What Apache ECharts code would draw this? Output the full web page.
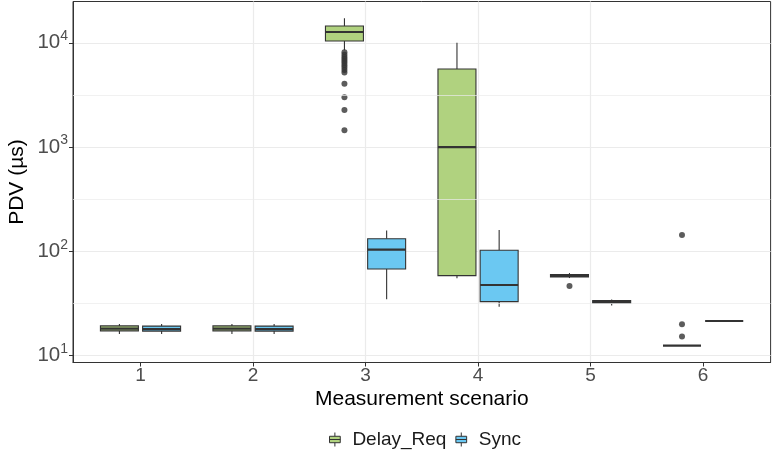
<!DOCTYPE html>
<html>
<head>
<meta charset="utf-8">
<title>PDV per measurement scenario</title>
<script src="https://cdn.jsdelivr.net/npm/echarts@6/dist/echarts.min.js"></script>
<style>
  html, body { margin: 0; padding: 0; background: #ffffff; }
  #chart { width: 772px; height: 455px; }
</style>
</head>
<body>
<div id="chart"></div>
<script>
// Measurement scenarios on the x axis
const scenarios = ['1', '2', '3', '4', '5', '6'];

// Five-number summaries per scenario: [lower whisker, Q1, median, Q3, upper whisker] in µs
const delayReqStats = [
  [16.1, 17.3, 18.2, 19.3, 20.1],
  [16.1, 17.3, 18.2, 19.3, 20.1],
  [8500, 10400, 12700, 14500, 17200],
  [55.2, 58.5, 1000, 5610, 10000],
  [55.5, 57.0, 58.3, 59.8, 62.0],
  [12.5, 12.5, 12.5, 12.5, 12.5]
];
const syncStats = [
  [16.1, 17.2, 18.0, 19.2, 20.1],
  [16.1, 17.2, 18.0, 19.2, 20.1],
  [34.8, 67.8, 104, 132, 159],
  [29.5, 33.0, 47.6, 102.6, 160],
  [30.2, 31.8, 32.7, 33.8, 34.6],
  [21.5, 21.5, 21.5, 21.5, 21.5]
];

// Outlying observations per scenario (µs)
const delayReqOutliers = [
  [], [],
  [8100, 7700, 7300, 7000, 6700, 6400, 6100, 5800, 5500, 5200, 4050, 3000, 2270, 1450],
  [],
  [46.5],
  [20, 15.3, 143.5]
];
const syncOutliers = [[], [], [], [], [], []];

// y axis: decade breaks carry labels, half-decade breaks are minor grid lines
const yMajor = [10, 100, 1000, 10000];
const yMinor = [31.62, 316.2, 3162];

const GREEN = '#B0D27F';
const BLUE = '#6BC8F2';
const INK = '#333333';
const GRID = '#EBEBEB';
const FONT = '"Liberation Sans", Arial, Helvetica, sans-serif';

// dodge: each group takes half of a 0.75 wide slot, boxes shrink by 10 % padding
const DODGE = 0.1875;
const HALF = 0.16875;

function boxRenderer(fill, side) {
  return function (params, api) {
    const k = api.value(0);
    const xc = k + side * DODGE;
    const lo = api.coord([xc, api.value(1)]);
    const q1 = api.coord([xc, api.value(2)]);
    const md = api.coord([xc, api.value(3)]);
    const q3 = api.coord([xc, api.value(4)]);
    const hi = api.coord([xc, api.value(5)]);
    const xl = api.coord([xc - HALF, api.value(3)])[0];
    const xr = api.coord([xc + HALF, api.value(3)])[0];
    const cx = lo[0];
    const thin = { stroke: INK, lineWidth: 1.1 };
    return {
      type: 'group',
      children: [
        { type: 'line', shape: { x1: cx, y1: hi[1], x2: cx, y2: q3[1] }, style: thin },
        { type: 'line', shape: { x1: cx, y1: q1[1], x2: cx, y2: lo[1] }, style: thin },
        { type: 'rect', shape: { x: xl, y: q3[1], width: xr - xl, height: q1[1] - q3[1] },
          style: { fill: fill, stroke: INK, lineWidth: 1.1 } },
        { type: 'line', shape: { x1: xl, y1: md[1], x2: xr, y2: md[1] },
          style: { stroke: INK, lineWidth: 2.2 } }
      ]
    };
  };
}

function outlierPoints(list, side) {
  const pts = [];
  list.forEach(function (vals, i) {
    vals.forEach(function (v) { pts.push([i + 1 + side * DODGE, v]); });
  });
  return pts;
}

const LEGEND_ICON = 'path://M5,0L5,3.5M0,3.5L10,3.5L10,9.5L0,9.5ZM0,6.5L10,6.5M5,9.5L5,13';

const chart = echarts.init(document.getElementById('chart'), null, { renderer: 'canvas' });

chart.setOption({
  animation: false,
  backgroundColor: '#ffffff',
  textStyle: { fontFamily: FONT },
  grid: {
    left: 73, top: 1.5, width: 697.6, height: 361,
    show: true, borderColor: INK, borderWidth: 1, backgroundColor: 'transparent',
    containLabel: false, outerBoundsMode: 'none'
  },
  legend: {
    left: 329, top: 430, padding: 0,
    itemWidth: 11, itemHeight: 14, itemGap: 9,
    selectedMode: false,
    textStyle: { fontFamily: FONT, fontSize: 19, color: '#1A1A1A', padding: [0, 0, 0, 7] },
    data: [
      { name: 'Delay_Req', icon: LEGEND_ICON, itemStyle: { color: GREEN, borderColor: INK, borderWidth: 1 } },
      { name: 'Sync', icon: LEGEND_ICON, itemStyle: { color: BLUE, borderColor: INK, borderWidth: 1 } }
    ]
  },
  xAxis: {
    type: 'value',
    min: 0.4, max: 6.6,
    name: 'Measurement scenario',
    nameLocation: 'middle',
    nameGap: 26,
    nameMoveOverlap: false,
    nameTextStyle: { fontFamily: FONT, fontSize: 21, color: '#000000' },
    axisLine: { show: true, onZero: false, lineStyle: { color: INK, width: 1 } },
    axisTick: { show: true, length: 4, lineStyle: { color: INK, width: 1 }, customValues: [1, 2, 3, 4, 5, 6] },
    axisLabel: {
      customValues: [1, 2, 3, 4, 5, 6],
      formatter: function (v) { return scenarios[Math.round(v) - 1]; },
      color: '#4D4D4D', fontSize: 19, fontFamily: FONT, margin: 4
    },
    splitLine: { show: true, showMinLine: false, showMaxLine: false, lineStyle: { color: GRID, width: 1.2 } }
  },
  yAxis: {
    type: 'log',
    logBase: 10,
    min: 8.6, max: 24890,
    name: 'PDV (µs)',
    nameLocation: 'middle',
    nameRotate: 90,
    nameGap: 45,
    nameMoveOverlap: false,
    nameTextStyle: { fontFamily: FONT, fontSize: 21, color: '#000000' },
    axisLine: { show: true, lineStyle: { color: INK, width: 1 } },
    axisTick: { show: true, length: 4, lineStyle: { color: INK, width: 1 } },
    axisLabel: {
      showMinLabel: false, showMaxLabel: false, margin: 5,
      formatter: function (v) {
        const e = Math.round(Math.log10(v));
        if (Math.abs(Math.log10(v) - e) > 1e-6 || yMajor.indexOf(Math.pow(10, e)) < 0) return '';
        return '{b|10}{e|' + e + '}';
      },
      rich: {
        b: { fontSize: 20.5, color: '#4D4D4D', fontFamily: FONT },
        e: { fontSize: 14, color: '#4D4D4D', fontFamily: FONT, padding: [0, 0, 13, 0] }
      }
    },
    splitLine: { show: true, showMinLine: false, showMaxLine: false, lineStyle: { color: GRID, width: 1.2 } }
  },
  series: [
    {
      // half-decade minor grid lines
      name: 'minor-grid',
      type: 'line',
      data: [],
      silent: true,
      z: 0,
      markLine: {
        silent: true,
        symbol: ['none', 'none'],
        label: { show: false },
        lineStyle: { color: GRID, width: 0.7, type: 'solid' },
        emphasis: { disabled: true },
        data: yMinor.map(function (v) { return { yAxis: v }; })
      }
    },
    {
      name: 'Delay_Req',
      type: 'custom',
      z: 3,
      itemStyle: { color: GREEN, borderColor: INK },
      encode: { x: 0, y: [1, 2, 3, 4, 5] },
      renderItem: boxRenderer(GREEN, -1),
      data: delayReqStats.map(function (s, i) { return [i + 1].concat(s); })
    },
    {
      name: 'Sync',
      type: 'custom',
      z: 3,
      itemStyle: { color: BLUE, borderColor: INK },
      encode: { x: 0, y: [1, 2, 3, 4, 5] },
      renderItem: boxRenderer(BLUE, 1),
      data: syncStats.map(function (s, i) { return [i + 1].concat(s); })
    },
    {
      name: 'Delay_Req outliers',
      type: 'scatter',
      z: 4,
      symbol: 'circle',
      symbolSize: 6,
      itemStyle: { color: INK },
      data: outlierPoints(delayReqOutliers, -1)
    },
    {
      name: 'Sync outliers',
      type: 'scatter',
      z: 4,
      symbol: 'circle',
      symbolSize: 6,
      itemStyle: { color: INK },
      data: outlierPoints(syncOutliers, 1)
    }
  ]
});
</script>
</body>
</html>
